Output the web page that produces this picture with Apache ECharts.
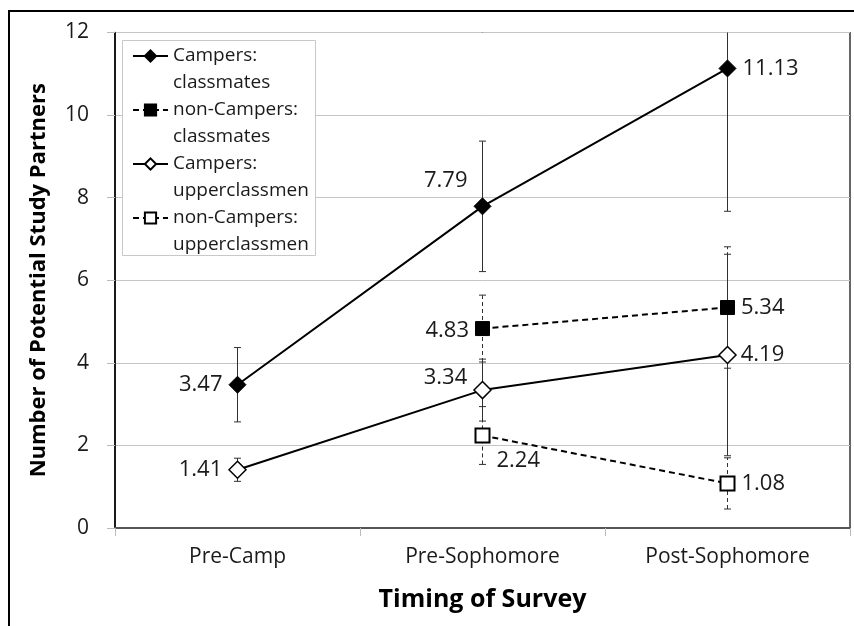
<!DOCTYPE html>
<html>
<head>
<meta charset="utf-8">
<script src="https://cdn.jsdelivr.net/npm/echarts@6/dist/echarts.min.js"></script>
<style>
html,body{margin:0;padding:0;background:#fff;}
#chart{width:854px;height:626px;}
</style>
</head>
<body>
<div id="chart"></div>
<script>
var categories = ['Pre-Camp', 'Pre-Sophomore', 'Post-Sophomore'];
var yTicks = [0, 2, 4, 6, 8, 10, 12];

var campersClassmates = [3.47, 7.79, 11.13];
var campersClassmatesErr = [0.90, 1.58, 3.46];

var nonCampersClassmates = ['-', 4.83, 5.34];
var nonCampersClassmatesErr = [null, 0.81, 1.47];

var campersUpper = [1.41, 3.34, 4.19];
var campersUpperErr = [0.28, 0.75, 2.44];

var nonCampersUpper = ['-', 2.24, 1.08];
var nonCampersUpperErr = [null, 0.70, 0.62];

var seriesNames = ['Campers:\nclassmates', 'non-Campers:\nclassmates', 'Campers:\nupperclassmen', 'non-Campers:\nupperclassmen'];

var FONT = '"Open Sans", "Noto Sans", sans-serif';
var TXT = '#1a1a1a';
var YMAX = 12;

function errSeries(vals, errs, dashed) {
  var data = [];
  for (var i = 0; i < vals.length; i++) {
    if (errs[i] == null || vals[i] === '-') continue;
    data.push([i, vals[i] - errs[i], vals[i] + errs[i]]);
  }
  return {
    type: 'custom',
    z: 1,
    silent: true,
    data: data,
    renderItem: function (params, api) {
      var x = api.value(0);
      var lo = api.value(1);
      var hi = api.value(2);
      var hiC = Math.min(hi, YMAX);
      var pLo = api.coord([x, lo]);
      var pHi = api.coord([x, hiC]);
      var style = { stroke: '#303030', lineWidth: 1, lineDash: dashed ? [4, 3] : null };
      var w = 3.5;
      var children = [
        { type: 'line', shape: { x1: pLo[0], y1: pLo[1], x2: pHi[0], y2: pHi[1] }, style: style },
        { type: 'line', shape: { x1: pLo[0] - w, y1: pLo[1], x2: pLo[0] + w, y2: pLo[1] }, style: { stroke: '#303030', lineWidth: 1 } }
      ];
      if (hi <= YMAX) {
        children.push({ type: 'line', shape: { x1: pHi[0] - w, y1: pHi[1], x2: pHi[0] + w, y2: pHi[1] }, style: { stroke: '#303030', lineWidth: 1 } });
      }
      return { type: 'group', children: children };
    }
  };
}

function lbl(pos, offset, dist) {
  return { show: true, position: pos, offset: offset || [0, 0], distance: dist == null ? 6 : dist,
    fontFamily: FONT, fontSize: 22, color: TXT, formatter: function (p) { return p.value.toFixed(2); } };
}

function mkData(vals, labels) {
  return vals.map(function (v, i) {
    if (v === '-') return '-';
    return { value: v, label: labels[i] };
  });
}

var chart = echarts.init(document.getElementById('chart'), null, { renderer: 'canvas' });

var option = {
  backgroundColor: '#fff',
  animation: false,
  textStyle: { fontFamily: FONT },
  graphic: [
    { type: 'rect', z: 0, shape: { x: 9, y: 11, width: 900, height: 700 }, style: { fill: null, stroke: '#000', lineWidth: 2 } },
    { type: 'rect', z: 3, shape: { x: 122.5, y: 40.5, width: 193, height: 215 }, style: { fill: '#fff', stroke: '#c8c8c8', lineWidth: 1 } }
  ],
  grid: {
    left: 115, top: 32.5, right: 4, bottom: 98,
    show: true, borderColor: '#000', borderWidth: 1.2, backgroundColor: 'transparent'
  },
  legend: {
    z: 5,
    orient: 'vertical',
    left: 132, top: 15.5,
    padding: 0,
    itemGap: -27,
    itemWidth: 35, itemHeight: 14,
    selectedMode: false,
    data: seriesNames,
    formatter: function (name) { return ' \n' + name; },
    textStyle: { fontFamily: FONT, fontSize: 19, color: TXT, lineHeight: 27 }
  },
  xAxis: {
    type: 'category',
    data: categories,
    boundaryGap: true,
    name: 'Timing of Survey',
    nameLocation: 'middle',
    nameGap: 59,
    nameTextStyle: { fontFamily: FONT, fontSize: 25, fontWeight: 'bold', color: '#000' },
    axisLine: { lineStyle: { color: '#555', width: 2 } },
    axisTick: { show: true, length: 8, lineStyle: { color: '#bbb' } },
    axisLabel: { fontFamily: FONT, fontSize: 21, color: TXT, margin: 19 }
  },
  yAxis: {
    type: 'value',
    min: 0, max: 12, interval: 2,
    name: 'Number of Potential Study Partners',
    nameLocation: 'middle',
    nameGap: 65,
    nameTextStyle: { fontFamily: FONT, fontSize: 22, fontWeight: 'bold', color: '#000' },
    axisLine: { show: true, lineStyle: { color: '#000', width: 1.5 } },
    axisTick: { show: true, length: 8, lineStyle: { color: '#bbb' } },
    axisLabel: { fontFamily: FONT, fontSize: 21, color: TXT, margin: 26,
      formatter: function (v) { return yTicks.indexOf(v) >= 0 ? String(v) : ''; } },
    splitLine: { show: true, lineStyle: { color: '#c4c4c4', width: 1 } }
  },
  series: [
    errSeries(campersClassmates, campersClassmatesErr, false),
    errSeries(nonCampersClassmates, nonCampersClassmatesErr, true),
    errSeries(campersUpper, campersUpperErr, false),
    errSeries(nonCampersUpper, nonCampersUpperErr, true),
    {
      name: seriesNames[0], type: 'line', z: 3,
      symbol: 'diamond', symbolSize: 17,
      itemStyle: { color: '#000', borderColor: '#000', borderWidth: 1 },
      lineStyle: { color: '#000', width: 2, type: 'solid' },
      data: mkData(campersClassmates, [lbl('left', [0, 0], 6), lbl('left', [0, -26], 6), lbl('right', [0, 0], 6)])
    },
    {
      name: seriesNames[1], type: 'line', z: 3,
      symbol: 'rect', symbolSize: 14,
      itemStyle: { color: '#000', borderColor: '#000', borderWidth: 1 },
      lineStyle: { color: '#000', width: 2, type: [6, 4] },
      data: mkData(nonCampersClassmates, [null, lbl('left', [0, 2], 6), lbl('right', [0, 0], 6)])
    },
    {
      name: seriesNames[2], type: 'line', z: 3,
      symbol: 'diamond', symbolSize: 17,
      itemStyle: { color: '#fff', borderColor: '#000', borderWidth: 1.5 },
      lineStyle: { color: '#000', width: 2, type: 'solid' },
      data: mkData(campersUpper, [lbl('left', [0, 0], 6), lbl('left', [0, -12], 6), lbl('right', [0, 0], 4)])
    },
    {
      name: seriesNames[3], type: 'line', z: 3,
      symbol: 'rect', symbolSize: 14,
      itemStyle: { color: '#fff', borderColor: '#000', borderWidth: 2 },
      lineStyle: { color: '#000', width: 2, type: [6, 4] },
      data: mkData(nonCampersUpper, [null, lbl('right', [0, 25], 6), lbl('right', [0, 0], 6)])
    }
  ]
};
chart.setOption(option);
</script>
</body>
</html>
